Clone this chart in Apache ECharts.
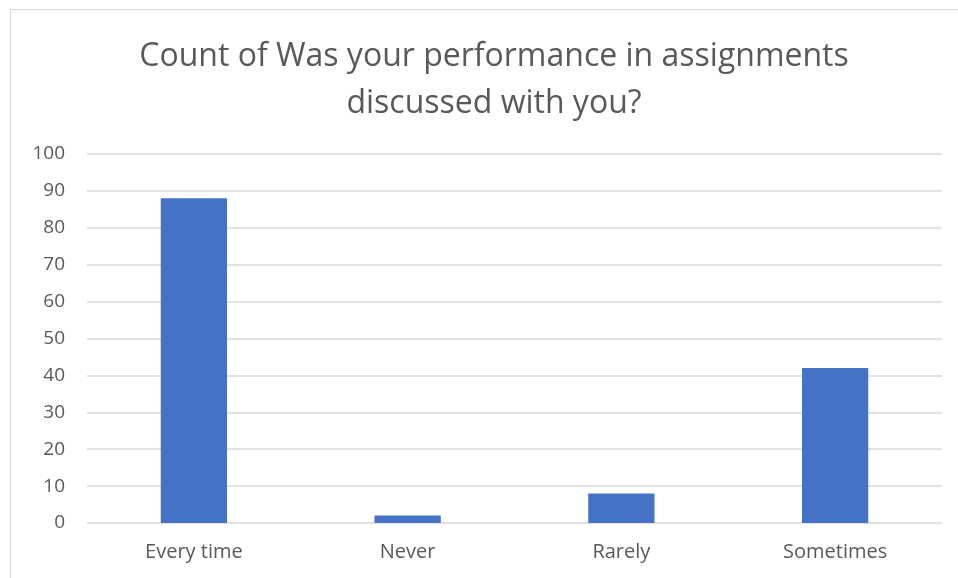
<!DOCTYPE html>
<html lang="en">
<head>
    <meta charset="UTF-8">
    <title>Count of Was your performance in assignments discussed with you?</title>
    <style>
        body {
            margin: 0px;
            padding: 0px;
            background: #ffffff;
        }

        #chart {
            position: absolute;
            left: 10px;
            top: 9px;
            width: 960px;
            height: 580px;
            border-left: 1px solid #d9d9d9;
            border-top: 1px solid #d9d9d9;
        }
    </style>
</head>
<body>
    <div id="chart"></div>
    <script src="https://cdn.jsdelivr.net/npm/echarts@6/dist/echarts.min.js"></script>
    <script>
        var categories = ['Every time', 'Never', 'Rarely', 'Sometimes'];
        var counts = [88, 2, 8, 42];
        var titleText = 'Count of Was your performance in assignments\ndiscussed with you?';

        var myChart = echarts.init(document.getElementById('chart'));

        var option = {
            animation: false,
            textStyle: { fontFamily: 'Open Sans' },
            title: {
                text: titleText,
                left: 478,
                top: 18,
                textAlign: 'center',
                textStyle: {
                    fontFamily: 'Open Sans',
                    fontSize: 32,
                    fontWeight: 'normal',
                    color: '#595959',
                    lineHeight: 47
                }
            },
            grid: {
                left: 76,
                top: 144,
                width: 855,
                height: 369
            },
            xAxis: {
                type: 'category',
                data: categories,
                axisLine: { show: false },
                axisTick: { show: false },
                axisLabel: {
                    color: '#595959',
                    fontSize: 20,
                    margin: 19
                }
            },
            yAxis: {
                type: 'value',
                min: 0,
                max: 100,
                interval: 10,
                axisLine: { show: false },
                axisTick: { show: false },
                axisLabel: {
                    color: '#595959',
                    fontSize: 19,
                    margin: 22
                },
                splitLine: {
                    lineStyle: { color: '#d9d9d9', width: 1.5 }
                }
            },
            series: [{
                name: 'Count',
                type: 'bar',
                data: counts,
                barWidth: '31%',
                itemStyle: { color: '#4472c4' }
            }]
        };

        myChart.setOption(option);
    </script>
</body>
</html>
